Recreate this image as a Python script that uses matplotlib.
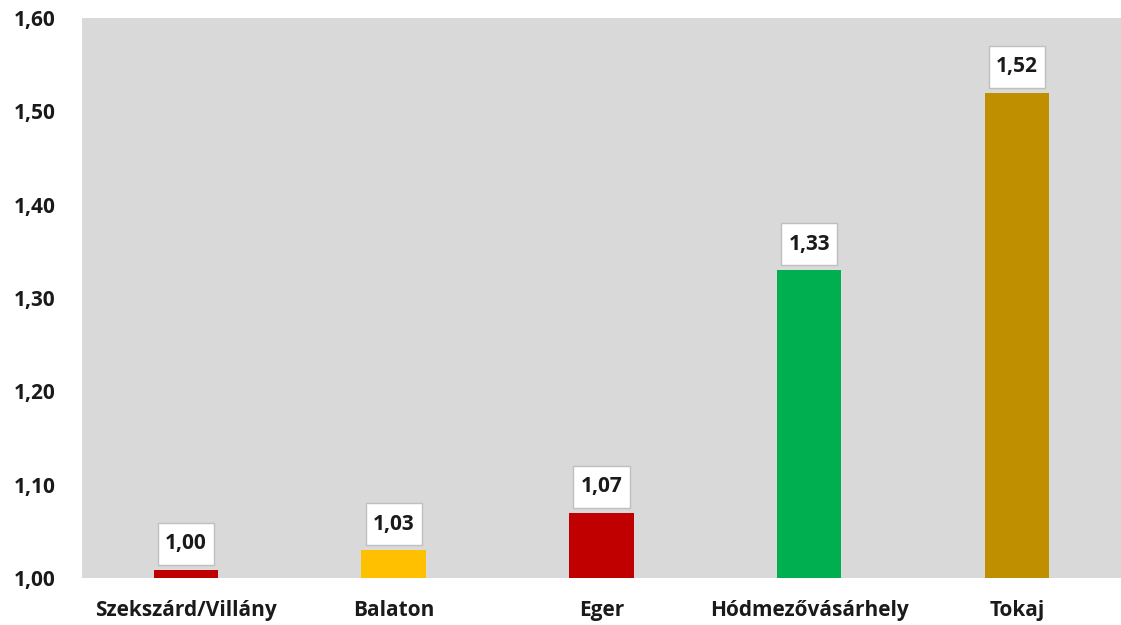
import matplotlib.pyplot as plt

categories = ["Szekszárd/Villány", "Balaton", "Eger", "Hódmezővásárhely", "Tokaj"]
values = [1.009, 1.03, 1.07, 1.33, 1.52]
value_labels = ["1,00", "1,03", "1,07", "1,33", "1,52"]
colors = ["#C00000", "#FFC000", "#C00000", "#00B050", "#BF8F00"]
yticks = [1.00, 1.10, 1.20, 1.30, 1.40, 1.50, 1.60]
ytick_labels = ["1,00", "1,10", "1,20", "1,30", "1,40", "1,50", "1,60"]

plt.rcParams['font.family'] = ['Open Sans', 'DejaVu Sans']

fig = plt.figure(figsize=(11.21, 6.25), dpi=100)
ax = fig.add_axes([0.0731, 0.0752, 0.9269, 0.896])
ax.set_facecolor("#D9D9D9")

x = list(range(len(categories)))
base = 1.0
bars = ax.bar(x, [v - base for v in values], bottom=base, width=0.31, color=colors)

for xi, v, lab in zip(x, values, value_labels):
    ax.annotate(lab, (xi, v), xytext=(0, 18.5), textcoords="offset points",
                ha="center", va="center", fontsize=15, fontweight="bold", color="#1a1a1a",
                bbox=dict(boxstyle="square,pad=0.35", fc="white", ec="#BFBFBF", lw=1,
                          mutation_aspect=1.45))

ax.set_xlim(-0.5, 4.5)
ax.set_ylim(1.0, 1.6)
ax.set_yticks(yticks)
ax.set_yticklabels(ytick_labels)
ax.set_xticks(x)
ax.set_xticklabels(categories)
for lbl in ax.get_yticklabels():
    lbl.set_fontweight("bold")
    lbl.set_fontsize(15)
    lbl.set_color("#1a1a1a")
for lbl in ax.get_xticklabels():
    lbl.set_fontweight("bold")
    lbl.set_fontsize(15)
    lbl.set_color("#1a1a1a")
ax.tick_params(axis="both", length=0)
ax.tick_params(axis="y", pad=19)
ax.tick_params(axis="x", pad=16)
for s in ax.spines.values():
    s.set_visible(False)

fig.savefig("out.png", dpi=100)
